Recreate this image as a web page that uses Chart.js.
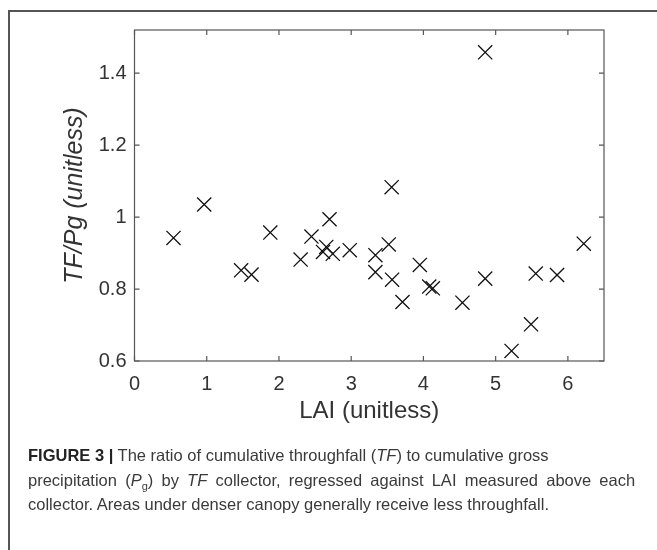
<!DOCTYPE html>
<html>
<head>
<meta charset="utf-8">
<script src="https://cdn.jsdelivr.net/npm/chart.js@4.4.1/dist/chart.umd.min.js"></script>
<style>
  body { margin: 0; background: #fff; }
  #wrap { position: relative; width: 657px; height: 550px; overflow: hidden; }
  #grafico { position: absolute; left: 0; top: 0; }
  .marco { position: absolute; background: #555; }
  #leyenda {
    position: absolute; left: 28px; top: 443px; width: 625px;
    font-family: "Liberation Sans", Arial, sans-serif; font-size: 16.5px;
    line-height: 24.5px; color: #3a3a3a; white-space: nowrap;
  }
  #leyenda b { color: #222; }
  #leyenda sub { font-size: 11px; line-height: 0; }
  .ancha { word-spacing: 3.6px; }
</style>
</head>
<body>
<div id="wrap">
  <canvas id="grafico" width="657" height="550"></canvas>
  <!-- marco de la figura -->
  <div class="marco" style="left:8px; top:10px; width:649px; height:1.5px;"></div>
  <div class="marco" style="left:8px; top:10px; width:1.5px; height:540px;"></div>
  <div id="leyenda">
    <b>FIGURE 3 |</b> The ratio of cumulative throughfall (<i>TF</i>) to cumulative gross<br>
    <span class="ancha">precipitation (<i>P</i><sub>g</sub>) by <i>TF</i> collector, regressed against LAI measured above each</span><br>
    collector. Areas under denser canopy generally receive less throughfall.
  </div>
</div>
<script>
// Datos
//? LAI de cada colector
const laiValues = [0.54, 0.965, 1.476, 1.62, 1.88, 2.30, 2.45, 2.61, 2.655, 2.70,
  2.745, 2.98, 3.335, 3.335, 3.56, 3.52, 3.566, 3.71, 3.95, 4.08,
  4.13, 4.54, 4.855, 4.855, 5.22, 5.49, 5.555, 5.85, 6.22];
//? TF/Pg de cada colector
const ratioValues = [0.942, 1.035, 0.852, 0.840, 0.957, 0.882, 0.946, 0.903, 0.917, 0.994,
  0.898, 0.908, 0.894, 0.847, 1.083, 0.924, 0.826, 0.764, 0.867, 0.807,
  0.802, 0.762, 0.829, 1.458, 0.628, 0.702, 0.843, 0.839, 0.926];
//? ticks
const xTicks = [0, 1, 2, 3, 4, 5, 6];
const yTicks = [0.6, 0.8, 1, 1.2, 1.4];
const yTickLabels = ["0.6", "0.8", "1", "1.2", "1.4"];

const fuente = "'Liberation Sans', Arial, sans-serif";
const colorTexto = "#333";
const colorEje = "#555";

// Plugin para la caja y los ticks hacia adentro (estilo MATLAB)
const cajaEjes = {
  id: "cajaEjes",
  afterDatasetsDraw(chart) {
    const { ctx, chartArea: a, scales } = chart;
    const largo = 5;
    ctx.save();
    ctx.strokeStyle = colorEje;
    ctx.lineWidth = 1.2;
    ctx.strokeRect(a.left, a.top, a.right - a.left, a.bottom - a.top);
    ctx.beginPath();
    xTicks.forEach((v) => {
      const px = scales.x.getPixelForValue(v);
      ctx.moveTo(px, a.bottom);
      ctx.lineTo(px, a.bottom - largo);
      ctx.moveTo(px, a.top);
      ctx.lineTo(px, a.top + largo);
    });
    yTicks.forEach((v) => {
      const py = scales.y.getPixelForValue(v);
      ctx.moveTo(a.left, py);
      ctx.lineTo(a.left + largo, py);
      ctx.moveTo(a.right, py);
      ctx.lineTo(a.right - largo, py);
    });
    ctx.stroke();
    ctx.restore();
  },
};

const puntos = laiValues.map((x, i) => ({ x: x, y: ratioValues[i] }));

new Chart(document.getElementById("grafico"), {
  type: "scatter",
  data: {
    datasets: [
      {
        data: puntos,
        pointStyle: "crossRot",
        pointRadius: 10,
        pointHoverRadius: 10,
        borderColor: "#111",
        backgroundColor: "#111",
        pointBorderWidth: 1.3,
      },
    ],
  },
  options: {
    responsive: false,
    animation: false,
    events: [],
    layout: { padding: { top: 30, right: 53, left: 0, bottom: 109 } },
    plugins: { legend: { display: false }, tooltip: { enabled: false } },
    scales: {
      x: {
        type: "linear",
        min: 0,
        max: 6.5,
        afterFit: (s) => { s.height = 80; },
        afterBuildTicks: (s) => { s.ticks = xTicks.map((v) => ({ value: v })); },
        grid: { display: false, drawTicks: false },
        border: { display: false },
        ticks: {
          padding: 11,
          color: colorTexto,
          font: { family: fuente, size: 20 },
          callback: (v) => String(v),
        },
        title: {
          display: true,
          text: "LAI (unitless)",
          color: colorTexto,
          font: { family: fuente, size: 24 },
          padding: { top: 0, bottom: 15 },
        },
      },
      y: {
        type: "linear",
        min: 0.6,
        max: 1.52,
        afterFit: (s) => { s.width = 134.5; },
        afterBuildTicks: (s) => { s.ticks = yTicks.map((v) => ({ value: v })); },
        grid: { display: false, drawTicks: false },
        border: { display: false },
        ticks: {
          padding: 8,
          color: colorTexto,
          font: { family: fuente, size: 20 },
          callback: (v) => yTickLabels[yTicks.indexOf(v)] ?? "",
        },
        title: {
          display: true,
          text: "TF/Pg (unitless)",
          color: colorTexto,
          font: { family: fuente, size: 25, style: "italic" },
          padding: { top: 60, bottom: 0 },
        },
      },
    },
  },
  plugins: [cajaEjes],
});
</script>
</body>
</html>
